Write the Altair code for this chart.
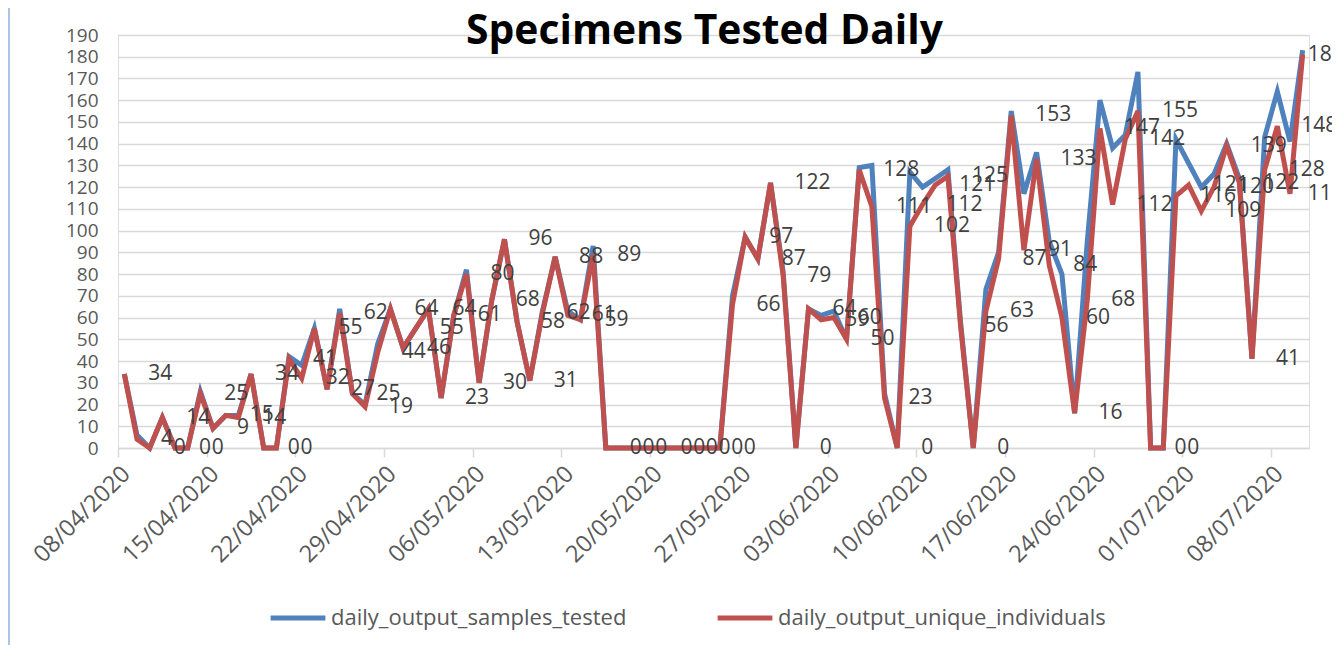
import altair as alt
import pandas as pd

# ---- data -------------------------------------------------------------
first_day = "2020-04-08"
n_days = 94
dates = pd.date_range(first_day, periods=n_days, freq="D")

samples_tested = [
    34, 6, 0, 14, 0, 0, 26, 9, 15, 15,
    34, 0, 0, 42, 38, 55, 27, 64, 25, 20,
    48, 64, 46, 55, 64, 23, 61, 82, 30, 68,
    96, 58, 31, 63, 88, 63, 59, 93, 0, 0,
    0, 0, 0, 0, 0, 0, 0, 0, 70, 97,
    87, 122, 81, 0, 64, 61, 63, 50, 129, 130,
    25, 0, 127, 120, 124, 128, 58, 0, 73, 90,
    155, 117, 136, 95, 80, 16, 95, 160, 138, 144,
    173, 0, 0, 142, 131, 120, 126, 140, 124, 41,
    143, 164, 141, 183,
]
unique_individuals = [
    34, 4, 0, 14, 0, 0, 25, 9, 15, 14,
    34, 0, 0, 41, 32, 55, 27, 62, 25, 19,
    44, 64, 46, 55, 64, 23, 61, 80, 30, 68,
    96, 58, 31, 62, 88, 61, 59, 89, 0, 0,
    0, 0, 0, 0, 0, 0, 0, 0, 66, 97,
    87, 122, 79, 0, 64, 59, 60, 50, 128, 111,
    23, 0, 102, 112, 121, 125, 56, 0, 63, 87,
    153, 91, 133, 84, 60, 16, 68, 147, 112, 142,
    155, 0, 0, 116, 121, 109, 120, 139, 122, 41,
    128, 148, 117, 181,
]
series_names = ["daily_output_samples_tested", "daily_output_unique_individuals"]
series_colors = ["#4f81bd", "#c0504d"]
unlabeled_dates = ["2020-05-19"]
label_right_limit = "2020-07-09"          # labels are kept inside the chart area
tick_dates = pd.date_range(first_day, "2020-07-08", freq="7D")
y_ticks = list(range(0, 191, 10))

# ---- tables -----------------------------------------------------------
mid = dates + pd.Timedelta(hours=12)
long_df = pd.concat([
    pd.DataFrame({"t": mid, "date": dates.strftime("%Y-%m-%d"),
                  "series": series_names[0], "value": samples_tested}),
    pd.DataFrame({"t": mid, "date": dates.strftime("%Y-%m-%d"),
                  "series": series_names[1], "value": unique_individuals}),
], ignore_index=True)
label_df = long_df[(long_df["series"] == series_names[1])
                   & (~long_df["date"].isin(unlabeled_dates))].copy()
label_df["label"] = label_df["value"].astype(str)
label_df["t"] = label_df["t"].clip(upper=pd.Timestamp(label_right_limit))

def dt(ts):
    return alt.DateTime(year=ts.year, month=ts.month, date=ts.day)

x_domain = [dt(dates[0]), dt(dates[-1] + pd.Timedelta(days=1))]
tick_values = [dt(d) for d in tick_dates]

FONT = "Open Sans"
GRID = "#d9d9d9"
TXT = "#595959"

x_enc = alt.X(
    "t:T",
    scale=alt.Scale(domain=x_domain),
    axis=alt.Axis(
        values=tick_values, format="%d/%m/%Y", labelAngle=-45,
        labelAlign="right", labelBaseline="middle", labelPadding=13,
        labelOffset=8,
        labelFontSize=23.5, labelColor=TXT, labelFont=FONT,
        labelOverlap=False, labelFlush=False,
        domainColor=GRID, domainWidth=1.5, tickColor=GRID, tickWidth=1.5,
        tickSize=9, grid=False, title=None,
    ),
)
y_enc = alt.Y(
    "value:Q",
    scale=alt.Scale(domain=[0, 190], nice=False, zero=True),
    axis=alt.Axis(
        values=y_ticks, tickCount=20, labelFontSize=19, labelColor=TXT,
        labelFont=FONT, labelPadding=20, labelOverlap=False, domain=False,
        ticks=False, gridColor=GRID, gridWidth=1.5, title=None,
    ),
)

lines = alt.Chart(long_df).mark_line(strokeWidth=5, strokeJoin="miter").encode(
    x=x_enc,
    y=y_enc,
    color=alt.Color(
        "series:N",
        scale=alt.Scale(domain=series_names, range=series_colors),
        legend=alt.Legend(
            orient="none", legendX=150, legendY=553, direction="horizontal",
            title=None, symbolType="stroke", symbolStrokeWidth=5,
            symbolSize=3000, labelFontSize=22, labelColor=TXT, labelFont=FONT,
            labelLimit=0, columnPadding=80, labelOffset=3,
        ),
    ),
)

labels = alt.Chart(label_df).mark_text(
    align="left", baseline="middle", dx=24, fontSize=21, color="#404040", font=FONT,
).encode(x=x_enc, y=y_enc, text="label:N")

# left edge of the chart-area frame
frame = alt.Chart(pd.DataFrame({"edge": ["left"]})).mark_rule(
    color="#8db3e2", strokeWidth=1.5
).encode(x=alt.value(-109), y=alt.value(-27), y2=alt.value(620))

chart = alt.layer(lines, labels, frame).properties(
    width=1191,
    height=413,
    padding={"left": 110, "top": 27, "right": 23, "bottom": 197},
    autosize=alt.AutoSizeParams(type="none"),
    title=alt.Title(
        "Specimens Tested Daily", fontSize=40.8, fontWeight="bold", color="black",
        font=FONT, anchor="middle", offset=-46, dx=-9,
    ),
).configure_view(stroke=None).configure(background="white")

chart.save("out.html", embed_options={"renderer": "svg", "actions": False})
